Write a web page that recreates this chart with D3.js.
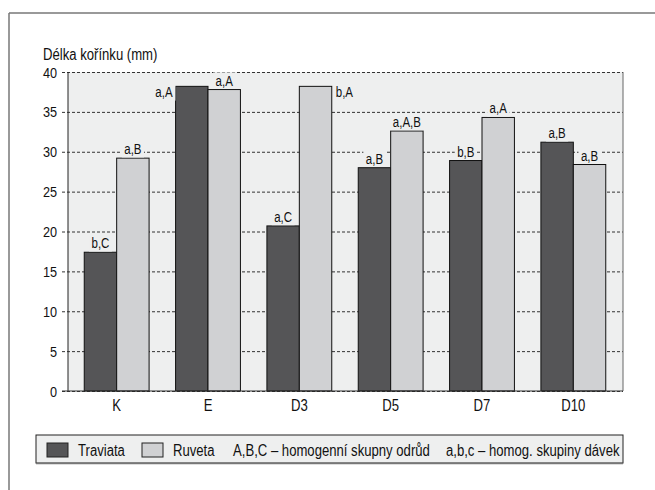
<!DOCTYPE html>
<html>
<head>
<meta charset="utf-8">
<script src="https://cdn.jsdelivr.net/npm/d3@7"></script>
<style>
  body { margin: 0; background: #fff; }
  svg text { font-family: "Liberation Sans", Arial, sans-serif; fill: #111; }
</style>
</head>
<body>
<div id="chart-area"></div>
<script>
// data
let categories = ["K", "E", "D3", "D5", "D7", "D10"];
let traviata = [17.4, 38.2, 20.7, 28.0, 28.9, 31.2];
let ruveta = [29.2, 37.8, 38.2, 32.6, 34.3, 28.4];
let travLabels = ["b,C", "a,A", "a,C", "a,B", "b,B", "a,B"];
let ruvLabels = ["a,B", "a,A", "b,A", "a,A,B", "a,A", "a,B"];
// where the letter sits: "top", "left" or "right" of the bar
let travLabelPos = ["top", "left", "top", "top", "top", "top"];
let ruvLabelPos = ["top", "top", "right", "top", "top", "top"];
let yTicks = [0, 5, 10, 15, 20, 25, 30, 35, 40];
let seriesNames = ["Traviata", "Ruveta"];
let seriesColors = ["#555557", "#d0d1d3"];

let width = 655, height = 490;
let plot = {left: 68, right: 623, top: 72, bottom: 391};
let plotBg = "#eeefef";
let squeeze = 0.82; // the original font is a narrow grotesque

// puts a narrow text at x,y
function narrowText(parent, tx, ty, str, size, anchor) {
  let g = parent.append("g")
    .attr("transform", "translate(" + tx + "," + ty + ") scale(" + squeeze + ",1)");
  g.append("text")
    .attr("text-anchor", anchor || "start")
    .style("font-size", size + "px")
    .text(str);
  return g;
}

let svg = d3.select("#chart-area").append("svg")
  .attr("width", width)
  .attr("height", height);

// outer frame (top and left lines)
svg.append("line").attr("x1", 9).attr("x2", width).attr("y1", 13).attr("y2", 13)
  .attr("stroke", "#777").attr("stroke-width", 1.5);
svg.append("line").attr("x1", 9).attr("x2", 9).attr("y1", 13).attr("y2", height)
  .attr("stroke", "#777").attr("stroke-width", 1.5);

let y = d3.scaleLinear().domain([0, 40]).range([plot.bottom, plot.top]);
let x = d3.scaleBand().domain(categories).range([71, 619]).paddingInner(0.29).paddingOuter(0.145);
let xs = d3.scaleBand().domain(seriesNames).range([0, x.bandwidth()]);

// plot background
svg.append("rect")
  .attr("x", plot.left).attr("y", plot.top)
  .attr("width", plot.right - plot.left).attr("height", plot.bottom - plot.top)
  .attr("fill", plotBg);

// grid + y axis
let yAxis = d3.axisLeft(y).tickValues(yTicks).tickSize(0).tickFormat("");
let yg = svg.append("g")
  .attr("transform", "translate(" + plot.right + ",0)")
  .call(yAxis);
yg.select(".domain").remove();
yg.selectAll(".tick line")
  .attr("stroke", "#333").attr("stroke-dasharray", "3,2").attr("stroke-width", 1)
  .attr("x1", plot.left - plot.right - 6).attr("x2", 0);
yTicks.forEach(t => narrowText(svg, plot.left - 11, y(t) + 5.5, t, 15.5, "end"));

// right border
svg.append("line").attr("x1", plot.right).attr("x2", plot.right)
  .attr("y1", plot.top).attr("y2", plot.bottom).attr("stroke", "#666");

let bars = [];
categories.forEach((c, i) => {
  bars.push({cat: c, s: "Traviata", v: traviata[i], lab: travLabels[i], pos: travLabelPos[i], col: seriesColors[0]});
  bars.push({cat: c, s: "Ruveta", v: ruveta[i], lab: ruvLabels[i], pos: ruvLabelPos[i], col: seriesColors[1]});
});

svg.selectAll(".bar")
  .data(bars)
  .enter().append("rect")
  .attr("class", "bar")
  .attr("x", d => x(d.cat) + xs(d.s))
  .attr("y", d => y(d.v))
  .attr("width", xs.bandwidth())
  .attr("height", d => y(0) - y(d.v))
  .attr("fill", d => d.col)
  .attr("stroke", "#111")
  .attr("stroke-width", 1);

// left axis and baseline
svg.append("line").attr("x1", plot.left).attr("x2", plot.left)
  .attr("y1", plot.top).attr("y2", plot.bottom).attr("stroke", "#222");
svg.append("line").attr("x1", plot.left - 6).attr("x2", plot.right)
  .attr("y1", plot.bottom).attr("y2", plot.bottom).attr("stroke", "#333");

// bar letters with background patch over the grid
bars.forEach(d => {
  let bx = x(d.cat) + xs(d.s);
  let tx = bx + xs.bandwidth() / 2, anchor = "middle";
  if (d.pos == "left") { tx = bx - 3; anchor = "end"; }
  if (d.pos == "right") { tx = bx + xs.bandwidth() + 4; anchor = "start"; }
  let ty = d.pos == "top" ? y(d.v) - 4 : y(d.v) + 11;
  let g = narrowText(svg, tx, ty, d.lab, 14, anchor);
  let bb = g.select("text").node().getBBox();
  g.insert("rect", "text")
    .attr("x", bb.x - 3).attr("y", bb.y)
    .attr("width", bb.width + 6).attr("height", bb.height)
    .attr("fill", plotBg);
});

// x labels
categories.forEach(c => narrowText(svg, x(c) + x.bandwidth() / 2, 411, c, 16, "middle"));

// y title
narrowText(svg, 43, 60, "Délka kořínku (mm)", 16);

// legend
let lg = svg.append("g");
lg.append("rect").attr("x", 36).attr("y", 435).attr("width", 587).attr("height", 28)
  .attr("fill", plotBg).attr("stroke", "#222").attr("stroke-width", 1);
lg.append("line").attr("x1", 36).attr("x2", 623).attr("y1", 463.5).attr("y2", 463.5)
  .attr("stroke", "#777").attr("stroke-width", 1.5);
let legX = [47, 142];
seriesNames.forEach((s, i) => {
  lg.append("rect").attr("x", legX[i]).attr("y", 443).attr("width", 21).attr("height", 14)
    .attr("fill", seriesColors[i]).attr("stroke", "#222");
  narrowText(lg, legX[i] + 31, 455.5, s, 16);
});
narrowText(lg, 233, 455.5, "A,B,C \u2013 homogenní skupny odrůd", 16);
narrowText(lg, 446, 455.5, "a,b,c \u2013 homog. skupiny dávek", 16);
</script>
</body>
</html>
